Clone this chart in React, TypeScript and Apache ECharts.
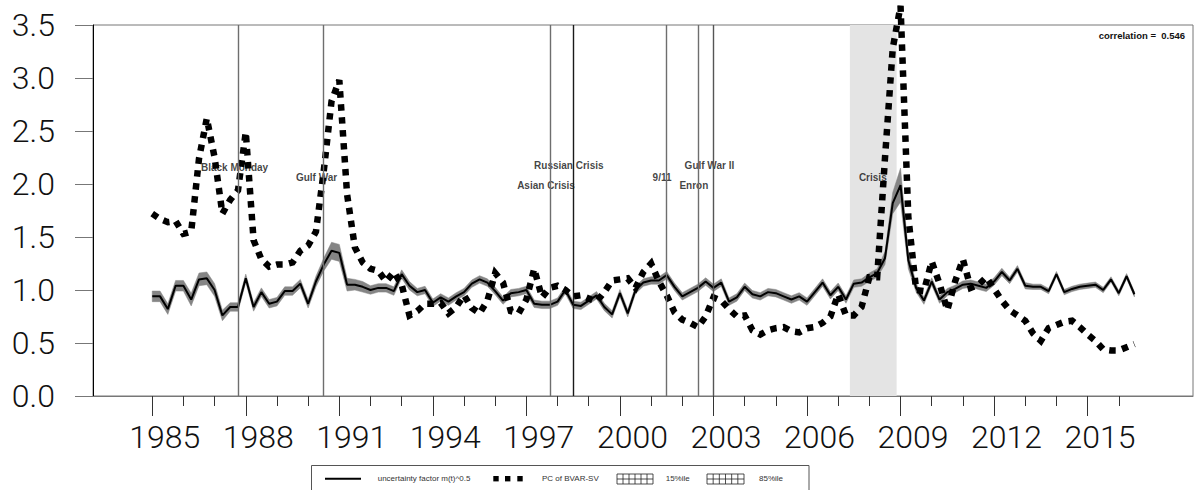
import { useEffect, useRef } from "react";
import * as echarts from "echarts";

// quarterly data, first point 1985Q1
const startYear = 1985;

// uncertainty factor m(t)^0.5 (median)
const uncertainty = [
  0.94, 0.94, 0.82, 1.04, 1.04, 0.91, 1.1, 1.11, 1.0, 0.76,
  0.84, 0.84, 1.11, 0.84, 0.98, 0.87, 0.89, 0.99, 0.99, 1.06,
  0.87, 1.08, 1.24, 1.37, 1.35, 1.05, 1.05, 1.03, 1.0, 1.02,
  1.02, 0.99, 1.15, 1.04, 0.98, 1.0, 0.88, 0.93, 0.89, 0.94,
  0.98, 1.06, 1.1, 1.07, 0.99, 0.9, 0.97, 0.98, 1.0, 0.87,
  0.86, 0.86, 0.89, 1.0, 0.86, 0.85, 0.9, 0.95, 0.84, 0.77,
  0.97, 0.78, 1.0, 1.07, 1.09, 1.09, 1.14, 1.03, 0.94, 0.98,
  1.02, 1.08, 1.02, 1.07, 0.89, 0.93, 1.03, 0.96, 0.94, 0.98,
  0.97, 0.94, 0.91, 0.94, 0.89, 0.98, 1.07, 0.95, 1.03, 0.91,
  1.06, 1.07, 1.12, 1.16, 1.3, 1.82, 1.99, 1.28, 1.02, 0.9,
  1.08, 0.91, 0.98, 1.01, 1.05, 1.06, 1.04, 1.02, 1.08, 1.17,
  1.09, 1.2, 1.04, 1.03, 1.03, 0.99, 1.15, 0.98, 1.01, 1.03,
  1.04, 1.05, 1.0, 1.1, 0.97, 1.13, 0.96,
];

// half width of the 15%ile - 85%ile band
const bandSpread = [
  0.05, 0.05, 0.05, 0.05, 0.05, 0.06, 0.06, 0.06, 0.06, 0.05,
  0.04, 0.04, 0.04, 0.04, 0.04, 0.04, 0.04, 0.04, 0.04, 0.04,
  0.04, 0.05, 0.06, 0.08, 0.08, 0.06, 0.05, 0.05, 0.04, 0.04,
  0.04, 0.04, 0.04, 0.04, 0.035, 0.035, 0.035, 0.035, 0.035, 0.035,
  0.035, 0.035, 0.035, 0.035, 0.035, 0.035, 0.035, 0.035, 0.035, 0.035,
  0.035, 0.035, 0.035, 0.035, 0.035, 0.035, 0.035, 0.035, 0.035, 0.035,
  0.035, 0.035, 0.035, 0.035, 0.035, 0.035, 0.035, 0.035, 0.035, 0.035,
  0.035, 0.035, 0.035, 0.035, 0.035, 0.035, 0.035, 0.035, 0.035, 0.035,
  0.035, 0.035, 0.035, 0.035, 0.035, 0.035, 0.035, 0.035, 0.035, 0.035,
  0.035, 0.035, 0.04, 0.04, 0.06, 0.1, 0.16, 0.08, 0.04, 0.035,
  0.035, 0.035, 0.035, 0.035, 0.035, 0.035, 0.035, 0.035, 0.035, 0.035,
  0.03, 0.03, 0.03, 0.025, 0.025, 0.025, 0.025, 0.025, 0.025, 0.025,
  0.025, 0.025, 0.025, 0.025, 0.025, 0.025, 0.025,
];

// PC of BVAR-SV
const pcBvar = [
  1.72, 1.67, 1.64, 1.65, 1.53, 1.55, 2.24, 2.62, 2.25, 1.72,
  1.85, 1.94, 2.49, 1.47, 1.29, 1.22, 1.24, 1.24, 1.26, 1.37,
  1.42, 1.55, 2.12, 2.78, 2.98, 1.9, 1.4, 1.26, 1.2, 1.18,
  1.08, 1.17, 1.05, 0.76, 0.8, 0.87, 0.87, 0.88, 0.78, 0.84,
  0.95, 0.83, 0.78, 0.9, 1.16, 1.07, 0.8, 0.78, 0.91, 1.2,
  0.93, 1.02, 1.04, 1.0, 0.94, 0.95, 0.92, 0.89, 0.98, 1.09,
  1.1, 1.11, 1.02, 1.17, 1.25, 1.08, 0.95, 0.79, 0.72, 0.69,
  0.65, 0.75, 0.93, 0.9, 0.82, 0.75, 0.76, 0.62, 0.58, 0.62,
  0.64, 0.65, 0.61, 0.6, 0.64, 0.65, 0.69, 0.75, 0.96, 0.76,
  0.76, 0.84, 1.12, 1.12, 2.24, 3.28, 3.68, 1.69, 1.0, 0.99,
  1.27, 1.06, 0.81, 1.08, 1.29, 1.02, 1.05, 1.12, 1.01, 0.9,
  0.81, 0.76, 0.71, 0.59, 0.52, 0.64, 0.67, 0.7, 0.71, 0.65,
  0.58, 0.52, 0.44, 0.43, 0.43, 0.46, 0.49,
];

const eventYears = [1987.75, 1990.5, 1997.75, 1998.5, 2001.5, 2002.5, 2003.0];
const eventColors = ["#6e6e6e", "#6e6e6e", "#6e6e6e", "#1a1a1a", "#6e6e6e", "#6e6e6e", "#555555"];
const crisisSpan = [2007.375, 2008.875];

const eventNames = ["Black Monday", "Gulf War", "Russian Crisis", "Asian Crisis", "9/11", "Gulf War II", "Enron", "Crisis"];
const eventLabelX = [1987.64, 1990.27, 1998.36, 1997.63, 2001.35, 2002.87, 2002.37, 2008.11];
const eventLabelY = [2.16, 2.066, 2.17, 1.99, 2.066, 2.17, 1.99, 2.066];

const majorYears = [1985, 1988, 1991, 1994, 1997, 2000, 2003, 2006, 2009, 2012, 2015];
const allYears = [
  1985, 1986, 1987, 1988, 1989, 1990, 1991, 1992, 1993, 1994, 1995, 1996, 1997, 1998, 1999, 2000,
  2001, 2002, 2003, 2004, 2005, 2006, 2007, 2008, 2009, 2010, 2011, 2012, 2013, 2014, 2015, 2016,
];
// year labels sit a little right of their ticks in the original
const labelShift = 0.4;

const correlationText = "correlation =  0.546";

const axisFont = "Roboto, 'Liberation Sans', sans-serif";
const smallFont = "'Liberation Sans', Arial, sans-serif";

function App() {
  const chartRef = useRef<HTMLDivElement>(null);

  useEffect(() => {
    const chart = echarts.init(chartRef.current, null, { renderer: "svg" });

    const quarters = uncertainty.map((_, i) => startYear + i / 4);
    const bandLow = uncertainty.map((v, i) => v - bandSpread[i]);
    const bandHigh = uncertainty.map((v, i) => v + bandSpread[i]);
    const xMin = 1983.1;
    const xMax = 2018.38;

    const legendY = 478.7;
    const hatch = (x0: number, y0: number, w: number, h: number) => {
      const els: any[] = [
        { type: "rect", shape: { x: x0, y: y0, width: w, height: h }, style: { fill: "#fff", stroke: "#222", lineWidth: 0.8 } },
        { type: "line", shape: { x1: x0, y1: y0 + h / 2, x2: x0 + w, y2: y0 + h / 2 }, style: { stroke: "#222", lineWidth: 0.8 } },
      ];
      for (let k = 1; k < 6; k++) {
        const xx = x0 + (w * k) / 6;
        els.push({ type: "line", shape: { x1: xx, y1: y0, x2: xx, y2: y0 + h }, style: { stroke: "#222", lineWidth: 0.8 } });
      }
      return els;
    };
    const legendText = (x: number, text: string) => ({
      type: "text",
      x,
      y: legendY,
      style: { text, fontSize: 8, fontFamily: smallFont, fill: "#333", verticalAlign: "middle", align: "left" },
    });

    const option: any = {
      animation: false,
      backgroundColor: "#fff",
      grid: [
        { left: 93, right: 1, top: 25, bottom: 94, show: true, borderColor: "#777", borderWidth: 1, backgroundColor: "transparent" },
        { left: 93, right: 1, top: 25, bottom: 94 },
      ],
      xAxis: [
        {
          type: "value",
          gridIndex: 0,
          min: xMin,
          max: xMax,
          axisLine: { show: true, lineStyle: { color: "#777", width: 1 } },
          axisTick: { show: true, customValues: majorYears, length: 20, lineStyle: { color: "#333", width: 1 } },
          axisLabel: {
            customValues: majorYears.map((y) => y + labelShift),
            formatter: (v: number) => String(Math.round(v - labelShift)),
            fontSize: 32,
            fontWeight: 300,
            fontFamily: axisFont,
            color: "#111",
            margin: 25,
          },
          splitLine: { show: false },
        },
        {
          type: "value",
          gridIndex: 1,
          min: xMin,
          max: xMax,
          axisLine: { show: false },
          axisTick: { show: true, customValues: allYears, length: 10, lineStyle: { color: "#333", width: 1 } },
          axisLabel: { show: false },
          splitLine: { show: false },
        },
      ],
      yAxis: [
        {
          type: "value",
          gridIndex: 0,
          min: 0,
          max: 3.5,
          interval: 0.5,
          axisLine: { show: true, lineStyle: { color: "#000", width: 1 } },
          axisTick: { show: true, length: 18, lineStyle: { color: "#777", width: 1 } },
          axisLabel: {
            formatter: (v: number) => v.toFixed(1),
            fontSize: 32,
            fontWeight: 300,
            fontFamily: axisFont,
            color: "#111",
            margin: 38,
          },
          splitLine: { show: false },
        },
        { type: "value", gridIndex: 1, min: 0, max: 3.5, show: false },
      ],
      graphic: [
        {
          type: "text",
          x: 1185,
          y: 35,
          style: { text: correlationText, fontSize: 9.5, fontWeight: "bold", fontFamily: smallFont, fill: "#111", align: "right", verticalAlign: "middle" },
        },
        { type: "rect", shape: { x: 311.5, y: 465.5, width: 497.5, height: 40 }, style: { fill: "none", stroke: "#555", lineWidth: 1 } },
        { type: "line", shape: { x1: 325, y1: legendY, x2: 361, y2: legendY }, style: { stroke: "#000", lineWidth: 2 } },
        legendText(377.7, "uncertainty factor m(t)^0.5"),
        { type: "rect", shape: { x: 493.3, y: legendY - 2.7, width: 5.4, height: 5.4 }, style: { fill: "#000" } },
        { type: "rect", shape: { x: 505, y: legendY - 2.7, width: 5.4, height: 5.4 }, style: { fill: "#000" } },
        { type: "rect", shape: { x: 517.3, y: legendY - 2.7, width: 5.4, height: 5.4 }, style: { fill: "#000" } },
        legendText(542, "PC of BVAR-SV"),
        ...hatch(617, 474, 36, 10),
        legendText(665.7, "15%ile"),
        ...hatch(707, 474, 37, 10),
        legendText(759, "85%ile"),
      ],
      series: [
        {
          name: "markers",
          type: "line",
          xAxisIndex: 0,
          yAxisIndex: 0,
          data: quarters.map((x, i) => [x, uncertainty[i]]),
          symbol: "none",
          lineStyle: { opacity: 0 },
          silent: true,
          z: 1,
          markArea: {
            silent: true,
            itemStyle: { color: "#e4e4e4" },
            label: { show: false },
            data: [[{ xAxis: crisisSpan[0] }, { xAxis: crisisSpan[1] }]],
          },
          markLine: {
            silent: true,
            symbol: ["none", "none"],
            label: { show: false },
            lineStyle: { type: "solid", width: 1.4 },
            data: eventYears.map((x, i) => ({ xAxis: x, lineStyle: { color: eventColors[i], type: "solid", width: 1.4 } })),
          },
        },
        {
          name: "events",
          type: "scatter",
          xAxisIndex: 0,
          yAxisIndex: 0,
          symbolSize: 1,
          itemStyle: { color: "rgba(0,0,0,0)" },
          silent: true,
          z: 1,
          data: eventNames.map((name, i) => ({ name, value: [eventLabelX[i], eventLabelY[i]] })),
          label: {
            show: true,
            position: "inside",
            formatter: (p: any) => p.name,
            fontSize: 10,
            fontWeight: "bold",
            fontFamily: smallFont,
            color: "#111",
          },
        },
        {
          name: "band",
          type: "custom",
          xAxisIndex: 0,
          yAxisIndex: 0,
          silent: true,
          z: 2,
          data: quarters.map((x, i) => [x, bandLow[i], bandHigh[i]]),
          encode: { x: 0, y: [1, 2] },
          renderItem: (params: any, api: any) => {
            if (params.dataIndex !== 0) return null;
            const upper = quarters.map((x, i) => api.coord([x, bandHigh[i]]));
            const lower = quarters.map((x, i) => api.coord([x, bandLow[i]])).reverse();
            return {
              type: "polygon",
              shape: { points: upper.concat(lower) },
              style: { fill: "#858585", stroke: "#858585", lineWidth: 0.5 },
            };
          },
        },
        {
          name: "uncertainty factor m(t)^0.5",
          type: "line",
          xAxisIndex: 0,
          yAxisIndex: 0,
          data: quarters.map((x, i) => [x, uncertainty[i]]),
          symbol: "none",
          lineStyle: { color: "#000", width: 2 },
          z: 3,
        },
        {
          name: "PC of BVAR-SV",
          type: "line",
          xAxisIndex: 0,
          yAxisIndex: 0,
          data: quarters.map((x, i) => [x, pcBvar[i]]),
          symbol: "none",
          clip: false,
          lineStyle: { color: "#000", width: 6.5, type: [6.5, 6.5], cap: "butt", join: "miter" },
          z: 4,
        },
      ],
    };

    chart.setOption(option);

    return () => {
      chart.dispose();
    };
  }, []);

  return (
    <div
      ref={chartRef}
      style={{ position: "fixed", left: 0, top: 0, width: "1194px", height: "490px", background: "#fff" }}
    ></div>
  );
}

export default App;
